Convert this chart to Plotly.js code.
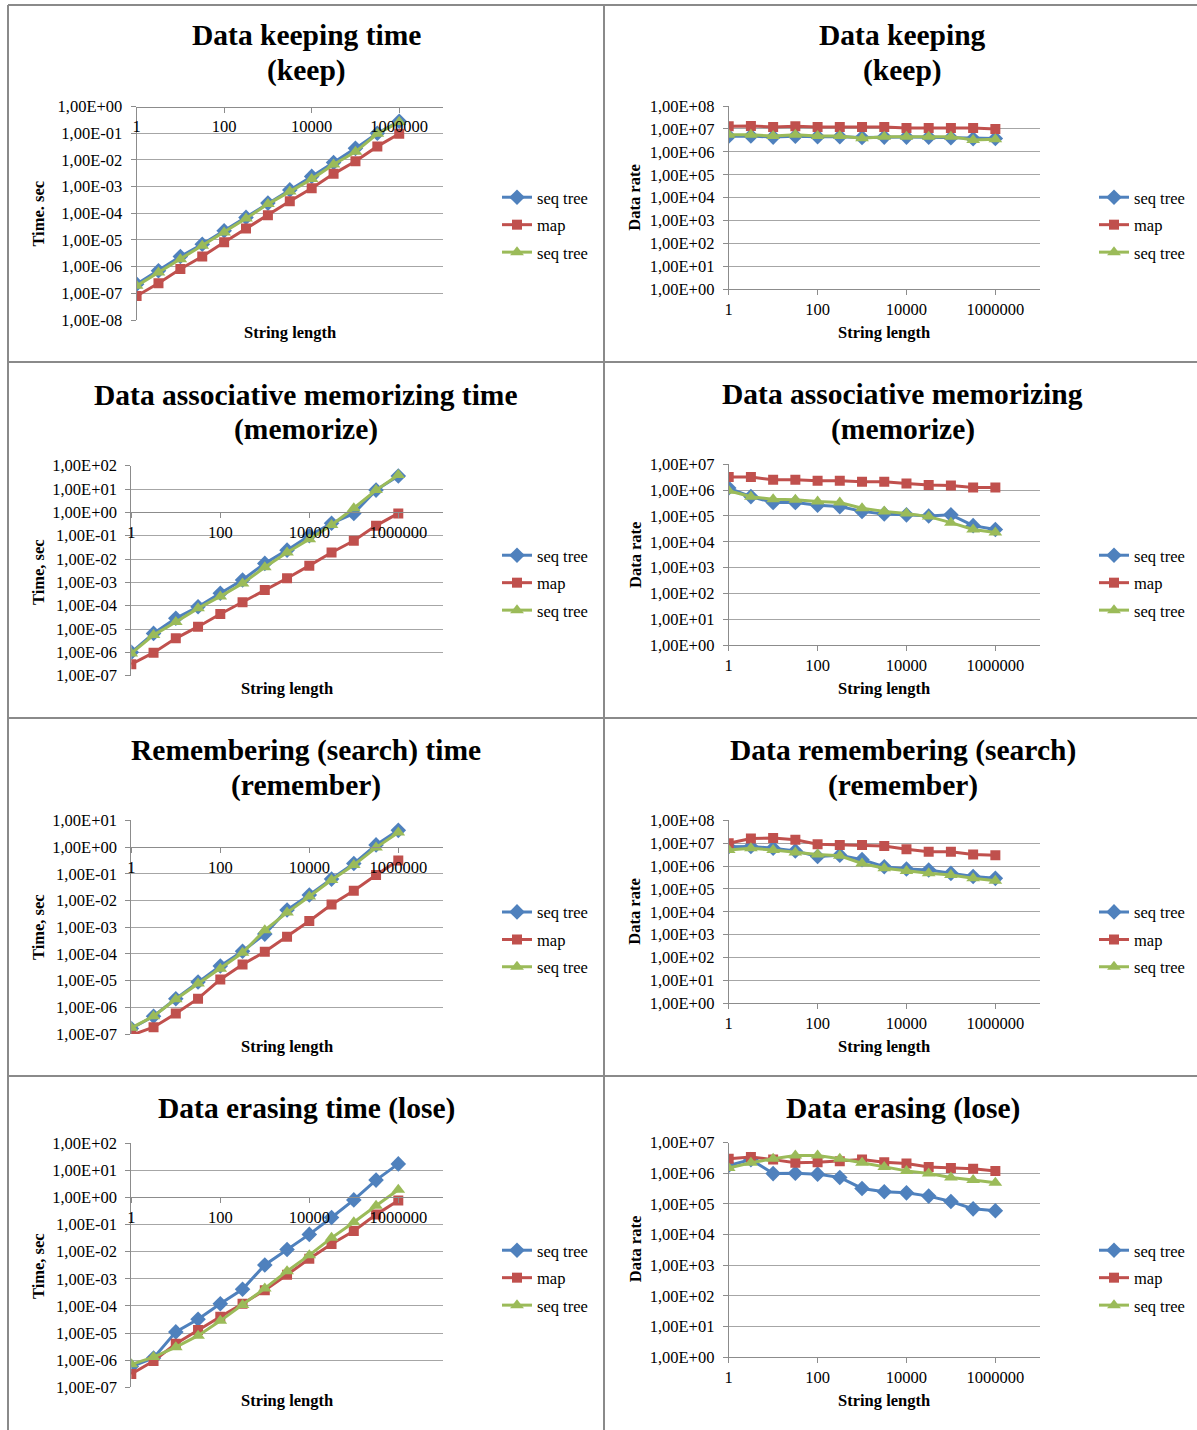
<!DOCTYPE html>
<html>
<head>
<meta charset="utf-8">
<script src="https://cdn.plot.ly/plotly-3.0.1.min.js"></script>
<style>
html,body{margin:0;padding:0;background:#fff;}
#chart{width:1197px;height:1430px;}
</style>
</head>
<body>
<div id="chart"></div>
<script>
// ---- data ----
const stringLength = [1, 3.16, 10, 31.6, 100, 316, 1000, 3162, 10000, 31623, 100000, 316228, 1000000];
const seriesNames = ['seq tree', 'map', 'seq tree'];

const xTickVals = [1, 100, 10000, 1000000];
const xTickText = ['1', '100', '10000', '1000000'];

// keep
const keepTimeSeq  = [2.2e-7, 7e-7, 2.4e-6, 6.9e-6, 2.2e-5, 7e-5, 2.4e-4, 7.5e-4, 2.4e-3, 7.9e-3, 2.7e-2, 1.0e-1, 2.8e-1];
const keepTimeMap  = [7.9e-8, 2.4e-7, 8.2e-7, 2.4e-6, 8.2e-6, 2.7e-5, 8.5e-5, 2.8e-4, 8.7e-4, 3.0e-3, 8.9e-3, 3.2e-2, 9.5e-2];
const keepTimeSeq2 = [1.9e-7, 6e-7, 1.9e-6, 6e-6, 1.9e-5, 6.3e-5, 2.2e-4, 6.6e-4, 1.9e-3, 6.7e-3, 2.0e-2, 9.5e-2, 2.6e-1];
const keepRateSeq  = [4.8e6, 4.9e6, 4.4e6, 4.8e6, 4.6e6, 4.6e6, 4.2e6, 4.4e6, 4.4e6, 4.3e6, 4.1e6, 3.7e6, 3.8e6];
const keepRateMap  = [1.3e7, 1.35e7, 1.2e7, 1.3e7, 1.2e7, 1.2e7, 1.2e7, 1.2e7, 1.1e7, 1.1e7, 1.1e7, 1.1e7, 1.0e7];
const keepRateSeq2 = [5.5e6, 5.5e6, 4.9e6, 5.5e6, 4.9e6, 4.9e6, 3.9e6, 4.6e6, 4.6e6, 4.6e6, 4.6e6, 3.3e6, 3.5e6];

// memorize
const memTimeSeq  = [1e-6, 6.5e-6, 2.9e-5, 9e-5, 3.4e-4, 1.26e-3, 6.5e-3, 2.4e-2, 0.1, 0.34, 0.9, 9, 36];
const memTimeMap  = [3.1e-7, 9.7e-7, 4e-6, 1.26e-5, 4.4e-5, 1.4e-4, 4.7e-4, 1.5e-3, 5.2e-3, 1.9e-2, 6.1e-2, 0.27, 0.9];
const memTimeSeq2 = [9e-7, 5.5e-6, 2e-5, 7.7e-5, 2.5e-4, 9e-4, 4.4e-3, 1.9e-2, 7e-2, 0.29, 1.5, 9, 40];
const memRateSeq  = [1.2e6, 5.6e5, 3.3e5, 3.3e5, 2.6e5, 2.3e5, 1.5e5, 1.2e5, 1.1e5, 1.0e5, 1.1e5, 4.2e4, 3e4];
const memRateMap  = [3.2e6, 3.2e6, 2.5e6, 2.5e6, 2.3e6, 2.3e6, 2.1e6, 2.1e6, 1.8e6, 1.58e6, 1.5e6, 1.25e6, 1.25e6];
const memRateSeq2 = [9.5e5, 5.5e5, 4.4e5, 4.2e5, 3.6e5, 3.3e5, 2e5, 1.5e5, 1.25e5, 9.4e4, 5.5e4, 3e4, 2.3e4];

// remember
const remTimeSeq  = [1.6e-7, 4.6e-7, 2.1e-6, 8.9e-6, 3.5e-5, 1.26e-4, 5.5e-4, 4.4e-3, 1.6e-2, 6.3e-2, 0.24, 1.2, 4.2];
const remTimeMap  = [9e-8, 1.8e-7, 5.8e-7, 2.1e-6, 1.1e-5, 4e-5, 1.2e-4, 4.4e-4, 1.7e-3, 7e-3, 2.3e-2, 9e-2, 0.31];
const remTimeSeq2 = [1.7e-7, 4.6e-7, 2e-6, 7.7e-6, 2.8e-5, 1.1e-4, 7.7e-4, 3.5e-3, 1.4e-2, 5.8e-2, 0.21, 0.95, 3.5];
const remRateSeq  = [7e6, 7.2e6, 6e6, 4.6e6, 2.6e6, 3e6, 1.9e6, 9.3e5, 7.4e5, 6.7e5, 4.8e5, 3.5e5, 2.9e5];
const remRateMap  = [1e7, 1.6e7, 1.7e7, 1.4e7, 9e6, 8.4e6, 8.4e6, 7.6e6, 5.4e6, 4.2e6, 4.2e6, 3.2e6, 3e6];
const remRateSeq2 = [5e6, 6e6, 5e6, 3.9e6, 3.2e6, 2.8e6, 1.3e6, 8e5, 6e5, 4.8e5, 4.1e5, 2.9e5, 2.3e5];

// lose
const loseTimeSeq  = [5.8e-7, 1.2e-6, 1.1e-5, 3.2e-5, 1.2e-4, 4.1e-4, 3.2e-3, 1.2e-2, 4.3e-2, 0.18, 0.8, 4.3, 17];
const loseTimeMap  = [3.1e-7, 9.3e-7, 4e-6, 1.3e-5, 4e-5, 1.2e-4, 3.8e-4, 1.4e-3, 5.4e-3, 1.9e-2, 5.7e-2, 0.23, 0.76];
const loseTimeSeq2 = [7e-7, 1.3e-6, 3e-6, 8e-6, 2.8e-5, 1.07e-4, 4.4e-4, 1.9e-3, 7.4e-3, 3.2e-2, 0.12, 0.49, 1.9];
const loseRateSeq  = [1.8e6, 2.8e6, 9.8e5, 1.0e6, 9.4e5, 7.3e5, 3.2e5, 2.5e5, 2.3e5, 1.8e5, 1.2e5, 6.9e4, 6e4];
const loseRateMap  = [3e6, 3.4e6, 2.8e6, 2.2e6, 2.3e6, 2.5e6, 2.8e6, 2.3e6, 2.1e6, 1.6e6, 1.5e6, 1.4e6, 1.2e6];
const loseRateSeq2 = [1.5e6, 2.2e6, 3e6, 3.8e6, 3.8e6, 3e6, 2.2e6, 1.6e6, 1.2e6, 9.8e5, 7.3e5, 6e5, 4.9e5];

// y tick labels
const yVals_m8_0 = [1e-8, 1e-7, 1e-6, 1e-5, 1e-4, 1e-3, 1e-2, 1e-1, 1];
const yText_m8_0 = ['1,00E-08','1,00E-07','1,00E-06','1,00E-05','1,00E-04','1,00E-03','1,00E-02','1,00E-01','1,00E+00'];
const yVals_m7_2 = [1e-7, 1e-6, 1e-5, 1e-4, 1e-3, 1e-2, 1e-1, 1, 10, 100];
const yText_m7_2 = ['1,00E-07','1,00E-06','1,00E-05','1,00E-04','1,00E-03','1,00E-02','1,00E-01','1,00E+00','1,00E+01','1,00E+02'];
const yVals_m7_1 = [1e-7, 1e-6, 1e-5, 1e-4, 1e-3, 1e-2, 1e-1, 1, 10];
const yText_m7_1 = ['1,00E-07','1,00E-06','1,00E-05','1,00E-04','1,00E-03','1,00E-02','1,00E-01','1,00E+00','1,00E+01'];
const yVals_0_8 = [1, 10, 100, 1e3, 1e4, 1e5, 1e6, 1e7, 1e8];
const yText_0_8 = ['1,00E+00','1,00E+01','1,00E+02','1,00E+03','1,00E+04','1,00E+05','1,00E+06','1,00E+07','1,00E+08'];
const yVals_0_7 = [1, 10, 100, 1e3, 1e4, 1e5, 1e6, 1e7];
const yText_0_7 = ['1,00E+00','1,00E+01','1,00E+02','1,00E+03','1,00E+04','1,00E+05','1,00E+06','1,00E+07'];

// ---- layout helpers (pixel geometry -> paper fractions) ----
const W = 1197, H = 1430;
const fx = p => p / W;
const fy = p => 1 - p / H;
const FONT = 'Liberation Serif, Times New Roman, serif';
const colors = ['#4F81BD', '#C0504D', '#9BBB59'];
const symbols = ['diamond', 'square', 'triangle-up'];
const msizes = [12, 10, 12];

const charts = [
  {title:['Data keeping time', '(keep)'], tx:306, ty:[35, 70], xd:[136.6,443], yd:[106.5,320], yr:[-8,0], time:true,
   ys:[keepTimeSeq, keepTimeMap, keepTimeSeq2], tv:yVals_m8_0, tt:yText_m8_0, ytitle:'Time. sec', ytx:38.3, yty:213.3, xtx:290, xty:332, lx:497, ly:180},
  {title:['Data keeping', '(keep)'], tx:902.7, ty:[35, 70], xd:[728.7,1039.8], yd:[106,289.3], yr:[0,8], time:false,
   ys:[keepRateSeq, keepRateMap, keepRateSeq2], tv:yVals_0_8, tt:yText_0_8, ytitle:'Data rate', ytx:635, yty:197.7, xtx:883.7, xty:332.7, lx:1094, ly:180},
  {title:['Data associative memorizing time', '(memorize)'], tx:306, ty:[395, 430], xd:[131.3,442.8], yd:[465.7,675.7], yr:[-7,2], time:true,
   ys:[memTimeSeq, memTimeMap, memTimeSeq2], tv:yVals_m7_2, tt:yText_m7_2, ytitle:'Time, sec', ytx:38.3, yty:571.7, xtx:286.6, xty:688.3, lx:497, ly:538},
  {title:['Data associative memorizing', '(memorize)'], tx:902.7, ty:[394, 429], xd:[728.7,1039.8], yd:[464.3,645], yr:[0,7], time:false,
   ys:[memRateSeq, memRateMap, memRateSeq2], tv:yVals_0_7, tt:yText_0_7, ytitle:'Data rate', ytx:635, yty:555, xtx:883.7, xty:688.3, lx:1094, ly:538},
  {title:['Remembering (search) time', '(remember)'], tx:306, ty:[750, 785], xd:[131.3,442.8], yd:[820.3,1034], yr:[-7,1], time:true,
   ys:[remTimeSeq, remTimeMap, remTimeSeq2], tv:yVals_m7_1, tt:yText_m7_1, ytitle:'Time, sec', ytx:38.3, yty:926.7, xtx:286.6, xty:1046.7, lx:497, ly:894.7},
  {title:['Data remembering (search)', '(remember)'], tx:902.7, ty:[750, 785], xd:[728.7,1039.8], yd:[820.3,1003.3], yr:[0,8], time:false,
   ys:[remRateSeq, remRateMap, remRateSeq2], tv:yVals_0_8, tt:yText_0_8, ytitle:'Data rate', ytx:635, yty:911.7, xtx:883.7, xty:1046.7, lx:1094, ly:894.7},
  {title:['Data erasing time (lose)'], tx:306, ty:[1108], xd:[131.3,442.8], yd:[1143,1387.3], yr:[-7,2], time:true,
   ys:[loseTimeSeq, loseTimeMap, loseTimeSeq2], tv:yVals_m7_2, tt:yText_m7_2, ytitle:'Time, sec', ytx:38.3, yty:1265.7, xtx:286.6, xty:1400.4, lx:497, ly:1233},
  {title:['Data erasing (lose)'], tx:902.7, ty:[1108], xd:[728.7,1039.8], yd:[1142.7,1357], yr:[0,7], time:false,
   ys:[loseRateSeq, loseRateMap, loseRateSeq2], tv:yVals_0_7, tt:yText_0_7, ytitle:'Data rate', ytx:635, yty:1249.2, xtx:883.7, xty:1400.4, lx:1094, ly:1233}
];

const traces = [];
const layout = {
  width: W, height: H,
  margin: {l:0, r:0, t:0, b:0},
  paper_bgcolor: '#ffffff', plot_bgcolor: 'rgba(0,0,0,0)',
  font: {family: FONT, size: 16.5, color: '#000'},
  annotations: [], shapes: [],
  showlegend: true
};

charts.forEach((c, i) => {
  const n = i + 1;
  const xk = n === 1 ? 'xaxis' : 'xaxis' + n;
  const yk = n === 1 ? 'yaxis' : 'yaxis' + n;
  const xr = n === 1 ? 'x' : 'x' + n;
  const yrn = n === 1 ? 'y' : 'y' + n;
  const lk = n === 1 ? 'legend' : 'legend' + n;
  const yDomain = [fy(c.yd[1]), fy(c.yd[0])];
  const xAxis = {
    type: 'log', range: [0, 7], domain: [fx(c.xd[0]), fx(c.xd[1])],
    tickvals: xTickVals, ticktext: xTickText,
    showgrid: false, zeroline: false,
    showline: true, linecolor: '#8c8c8c', linewidth: 1,
    ticks: 'outside', ticklen: 5, tickcolor: '#8c8c8c',
    tickfont: {family: FONT, size: 16.5, color: '#000'},
    fixedrange: true
  };
  if (c.time) {
    const frac = (0 - c.yr[0]) / (c.yr[1] - c.yr[0]);
    xAxis.anchor = 'free';
    xAxis.position = yDomain[0] + frac * (yDomain[1] - yDomain[0]);
  } else {
    xAxis.anchor = yrn;
  }
  layout[xk] = xAxis;
  layout[yk] = {
    type: 'log', range: c.yr, domain: yDomain, anchor: xr,
    tickvals: c.tv, ticktext: c.tt,
    showgrid: true, gridcolor: '#a6a6a6', gridwidth: 1,
    zeroline: false, showline: true, linecolor: '#8c8c8c', linewidth: 1,
    ticks: 'outside', ticklen: 5, tickcolor: '#8c8c8c', ticklabelstandoff: 5,
    tickfont: {family: FONT, size: 16.5, color: '#000'},
    fixedrange: true
  };
  layout[lk] = {
    x: fx(c.lx), y: fy(c.ly), xanchor: 'left', yanchor: 'top',
    bgcolor: 'rgba(0,0,0,0)', borderwidth: 0,
    font: {family: FONT, size: 16.5, color: '#000'},
    traceorder: 'grouped', tracegroupgap: 3, itemwidth: 30
  };
  c.ys.forEach((vals, s) => {
    traces.push({
      type: 'scatter', mode: 'lines+markers',
      x: stringLength, y: vals,
      xaxis: xr, yaxis: yrn,
      name: seriesNames[s], legend: lk, legendgroup: 'g' + n + '_' + s,
      line: {color: colors[s], width: 3},
      marker: {symbol: symbols[s], size: msizes[s], color: colors[s], line: {width: 0}},
      hoverinfo: 'skip'
    });
  });
  c.title.forEach((line, k) => {
    layout.annotations.push({
      text: '<b>' + line + '</b>', xref: 'paper', yref: 'paper',
      x: fx(c.tx), y: fy(c.ty[k]), xanchor: 'center', yanchor: 'middle',
      showarrow: false, font: {family: FONT, size: 29.5, color: '#000'}
    });
  });
  layout.annotations.push({
    text: '<b>' + c.ytitle + '</b>', xref: 'paper', yref: 'paper',
    x: fx(c.ytx), y: fy(c.yty), xanchor: 'center', yanchor: 'middle', textangle: -90,
    showarrow: false, font: {family: FONT, size: 16.5, color: '#000'}
  });
  layout.annotations.push({
    text: '<b>String length</b>', xref: 'paper', yref: 'paper',
    x: fx(c.xtx), y: fy(c.xty), xanchor: 'center', yanchor: 'middle',
    showarrow: false, font: {family: FONT, size: 16.5, color: '#000'}
  });
});

// table cell borders
const lineStyle = {color: '#8a8a8a', width: 2};
[[8, 5, 8, 1430], [604, 5, 604, 1430], [8, 5, 1197, 5], [8, 362, 1197, 362], [8, 718, 1197, 718], [8, 1076, 1197, 1076]]
  .forEach(l => layout.shapes.push({type: 'line', xref: 'paper', yref: 'paper',
    x0: fx(l[0]), y0: fy(l[1]), x1: fx(l[2]), y1: fy(l[3]), line: lineStyle, layer: 'below'}));

Plotly.newPlot('chart', traces, layout, {displayModeBar: false, staticPlot: true});
</script>
</body>
</html>
